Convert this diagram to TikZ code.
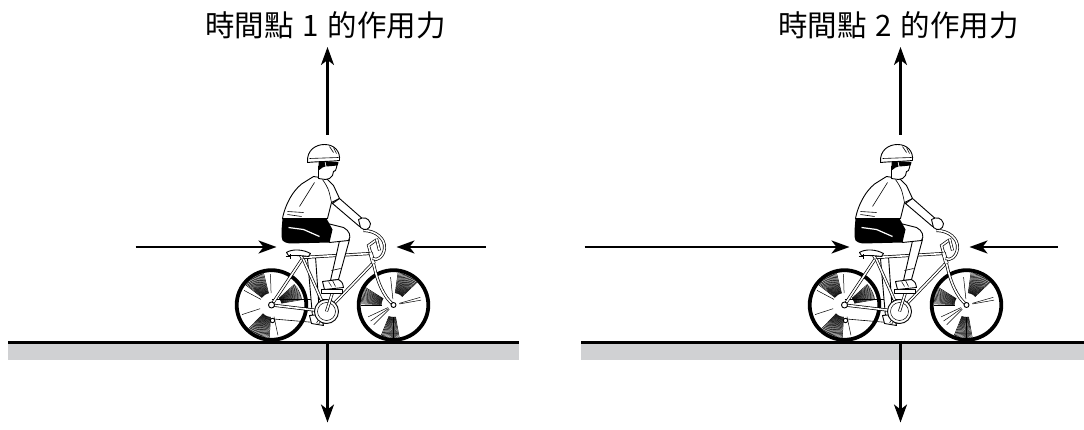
\documentclass[tikz,border=0pt]{standalone}
\usepackage{fontspec}
\newfontfamily\cjk{Noto Sans CJK TC}
\usetikzlibrary{arrows.meta}
\definecolor{road}{RGB}{208,209,211}

\begin{document}
\begin{tikzpicture}[x=1pt,y=-1pt,
  force/.style={line width=2.3pt,-{Stealth[length=18pt,width=13pt,inset=5pt]}},
  tube/.style={double=white,double distance=1.6pt,line width=0.7pt},
  rim/.style={line width=3.8pt},
  spoke/.style={line width=0.5pt},
  body/.style={fill=white,line width=0.9pt,line join=round}]
  \useasboundingbox (0,0) rectangle (1084,430);
  \foreach \ox/\t/\xl/\xr/\gr in {327.5/1/-192/158/191.5,900.5/2/-316/157/183.5}{
  \begin{scope}[shift={(\ox,342.5)}]
    % road
    \fill[road] (-319.5,0) rectangle (\gr,17);
    \draw[line width=2.2pt] (-319.5,0) -- (\gr,0);
    % label
    \node[font=\cjk\fontsize{29.5}{29.5}\selectfont] (lab\t) at (-2,-317)
      {時間點\hspace{9pt}\t\hspace{9pt}的作用力};
    % wheels
    \draw[rim] (-56,-37.5) circle[radius=34.8];
    \draw[rim] (66,-37.5) circle[radius=34.8];
    \foreach \a in {104,106,...,142} \draw[spoke] (-56,-37.5) ++(\a:12pt) -- ++(\a:21pt);
    \foreach \a in {226,228,...,266} \draw[spoke] (-56,-37.5) ++(\a:12pt) -- ++(\a:21pt);
    \foreach \a in {10,12,...,42} \draw[spoke] (-56,-37.5) ++(\a:10pt) -- ++(\a:21pt);
    \foreach \a in {92,152,198,282} \draw[spoke] (-56,-37.5) ++(\a:12pt) -- ++(\a:19pt);
    \foreach \a in {148,150,...,180} \draw[spoke] (66,-37.5) ++(\a:12pt) -- ++(\a:21pt);
    \foreach \a in {44,46,...,82} \draw[spoke] (66,-37.5) ++(\a:12pt) -- ++(\a:21pt);
    \foreach \a in {248,250,...,280} \draw[spoke] (66,-37.5) ++(\a:12pt) -- ++(\a:21pt);
    \foreach \a in {96,10,16,205,215,225} \draw[spoke] (66,-37.5) ++(\a:6pt) -- ++(\a:22pt);
    % chain and far leg
    \draw[line width=0.6pt] (-56,-43) -- (-1,-43);
    \draw[line width=0.6pt] (-54,-23.5) -- (-1,-19);
    \draw[body] (-20,-84) -- (-12,-86) -- (-8,-28) -- (-15,-26) -- cycle;
    \draw[body] (-18,-27) -- (-7,-28) -- (-4,-17) -- (-16,-19) -- cycle;
    \draw[tube] (-1,-31) -- (-10,-19);
    % frame
    \draw[tube] (-56,-37.5) -- (-1,-31);
    \draw[tube] (-56,-37.5) -- (-25,-84);
    \draw[tube] (-25,-85) -- (-1,-31);
    \draw[tube] (-25,-85) -- (43,-89);
    \draw[tube] (46,-80) -- (-1,-31);
    \draw[tube,double distance=2.8pt] (43,-90) -- (46,-79);
    \draw[tube] (46,-79) .. controls (50,-60) and (56,-46) .. (66,-37.5);
    \draw[body] (-1,-31) circle[radius=12];
    \draw[line width=0.5pt] (-1,-31) circle[radius=9];
    \draw[body] (-55,-22) circle[radius=2.2];
    \draw[body] (-56,-37.5) circle[radius=3];
    \draw[body] (66,-37.5) circle[radius=2.5];
    % bars
    \draw[tube] (43,-90) -- (41,-97) -- (48,-102);
    \draw[tube] (36,-112) .. controls (48,-112) and (58,-104) .. (57,-94)
      .. controls (56,-86) and (50,-81) .. (45,-84);
    \draw[tube] (49,-104) -- (52,-92);
    % saddle
    \draw[tube] (-27,-87) -- (-25,-84);
    \draw[body] (-41,-90) .. controls (-35,-94) and (-24,-93) .. (-17,-89)
      -- (-19,-86) .. controls (-27,-87) .. (-39,-87) -- cycle;
    \draw[line width=0.6pt] (-42,-86) -- (-38,-86) (-37,-88) -- (-37,-83);
    % near leg
    \draw[body] (13,-106) -- (22,-103) -- (11,-63) -- (3,-62) -- cycle;
    \draw[line width=0.6pt] (4,-72) -- (13,-74);
    \draw[tube] (-1,-31) -- (5,-50);
    \draw[body] (-6,-53) rectangle (15,-49);
    \draw[body] (-5,-61) -- (11,-63) .. controls (15,-60) .. (16,-55) -- (-3,-53) -- cycle;
    \draw[line width=0.5pt] (1,-61) -- (4,-56) (5,-62) -- (8,-56);
    \draw[body] (-4,-120) -- (16,-115) .. controls (22,-112) and (24,-106) .. (21,-102)
      -- (2,-100) -- cycle;
    % shorts
    \fill (-45,-124) -- (-1,-124) -- (5,-113) -- (2,-100) -- (-38,-99)
      .. controls (-46,-101) .. (-46,-112) -- cycle;
    \draw[white,line width=1.2pt] (-39,-115) -- (-24,-113) -- (-8,-106);
    % jersey and arm
    \draw[body] (-14,-166) -- (-1,-164) -- (6,-157) -- (12,-144) -- (4,-140)
      -- (0,-124) -- (-45,-124) .. controls (-42,-140) and (-32,-156) .. (-22,-161) -- cycle;
    \draw[line width=0.6pt] (-5,-163) .. controls (1,-154) .. (4,-140);
    \draw[line width=0.6pt] (-13,-160) -- (-28,-136) (-40,-131) -- (-24,-130) (-40,-128) -- (-26,-126);
    \draw[body] (12,-144) -- (37,-122) -- (32,-116) -- (5,-139) -- cycle;
    \draw[body] (31,-123) .. controls (36,-126) and (41,-125) .. (43,-119)
      .. controls (43,-113) and (37,-111) .. (33,-115) -- cycle;
    % head
    \draw[body] (-9,-176) -- (-3,-181) -- (10,-180) -- (9,-175) -- (8,-172) -- (6,-171)
      -- (5,-167) -- (2,-164) -- (-2,-163) -- (-9,-164) -- cycle;
    \fill (-9,-181) -- (-3,-181) -- (-2,-176) -- (-5,-175) -- (-9,-172) -- cycle;
    \fill (-2,-181) -- (11,-180) -- (10,-177) -- (-1,-176) -- cycle;
    \draw[body] (-20,-180) .. controls (-21,-193) and (-11,-198) .. (-3,-198)
      .. controls (7,-198) and (13,-191) .. (12,-182) .. controls (2,-181) and (-10,-181) .. (-20,-180) -- cycle;
    \draw[line width=0.6pt] (-18,-184) .. controls (-4,-185) .. (11,-185) (2,-196) -- (6,-190) (6,-195) -- (9,-189);
    % forces
    \coordinate (top\t) at (0,-207.5);
    \coordinate (sky\t) at (0,-295.5);
    \coordinate (foot\t) at (0,0);
    \coordinate (deep\t) at (0,80);
    \coordinate (back\t) at (\xl,-95.5);
    \coordinate (seat\t) at (-51,-95.5);
    \coordinate (front\t) at (\xr,-95.5);
    \coordinate (bar\t) at (69,-95.5);
    \draw[force] (top\t) -- (sky\t);
    \draw[force] (foot\t) -- (deep\t);
    \draw[force] (back\t) -- (seat\t);
    \draw[force] (front\t) -- (bar\t);
  \end{scope}}
\end{tikzpicture}
\end{document}
